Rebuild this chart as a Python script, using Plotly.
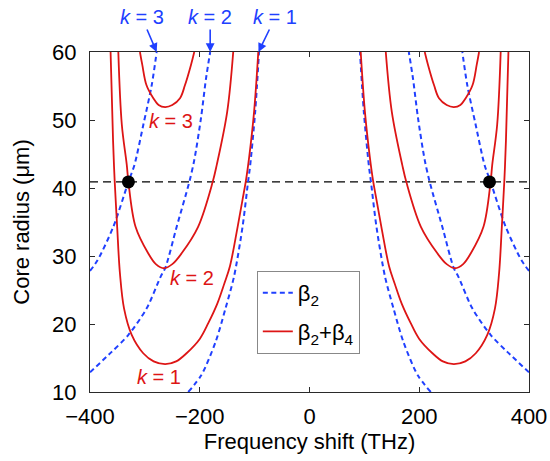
import plotly.graph_objects as go

# ---------------- data ----------------
# beta2 only (blue dashed), left half (negative shift)
b1_f_L = [-221, -197, -171, -153, -137.5, -122, -112, -108, -99, -92]
b1_R_L = [10, 12.5, 17.4, 22.3, 27.0, 34.3, 40.9, 43.4, 51.2, 60]
b2_f_L = [-400, -360.5, -330, -296.7, -271, -263, -242, -219, -210, -197.7, -188.6, -181]
b2_R_L = [12.9, 15.9, 18.4, 22.3, 27.0, 28.2, 34.3, 40.9, 44.1, 50.3, 56.1, 60]
b3_f_L = [-400, -386, -357.5, -330, -319, -302.8, -287.6, -278.5]
b3_R_L = [27.8, 29.4, 34.3, 40.9, 43.4, 49.3, 55.1, 60]

# right half (positive shift)
b1_f_R = [221, 197, 171, 153, 137.5, 122, 112, 108, 99, 92]
b1_R_R = [10, 12.5, 17.4, 22.3, 27.0, 34.3, 40.9, 43.4, 51.2, 60]
b2_f_R = [400, 360.5, 330, 296.7, 271, 263, 242, 219, 210, 197.7, 188.6, 181]
b2_R_R = [12.9, 15.9, 18.4, 22.3, 27.0, 28.2, 34.3, 40.9, 44.1, 50.3, 56.1, 60]
b3_f_R = [400, 386, 357.5, 330, 319, 302.8, 287.6, 278.5]
b3_R_R = [27.8, 29.4, 34.3, 40.9, 43.4, 49.3, 55.1, 60]

# beta2 + beta4 (red solid), left half
r1_f_L = [-362.5, -358, -355, -350.5, -345.5, -338, -324, -303, -284, -263, -243, -224,
          -200, -184, -168, -155, -145, -131.6, -122, -116, -110, -101, -93.3]
r1_R_L = [60, 47, 41, 34.3, 27.5, 22.3, 18.4, 15.7, 14.5, 14.1, 14.5, 15.7,
          17.8, 20.2, 23.0, 26.0, 28.5, 34.0, 38.3, 41, 44.5, 51.2, 60]
r2_f_L = [-348.4, -342, -333, -330, -317, -294, -280, -265, -250, -233, -203, -176.4, -169, -150, -139]
r2_R_L = [60, 49.3, 43.4, 40.9, 34.3, 30.4, 28.8, 28.2, 28.8, 30.4, 34.3, 40.9, 43.4, 51.2, 60]
r3_f_L = [-309, -304.7, -297, -284.6, -275, -263, -250, -236, -227, -216, -210]
r3_R_L = [60, 58.1, 55.1, 53.2, 52.2, 51.9, 52.2, 53.2, 55.1, 58.1, 60]

# right half
r1_f_R = [362.5, 358, 355, 350.5, 345.5, 338, 324, 303, 284, 263, 243, 224,
          200, 184, 168, 155, 145, 131.6, 122, 116, 110, 101, 93.3]
r1_R_R = [60, 47, 41, 34.3, 27.5, 22.3, 18.4, 15.7, 14.5, 14.1, 14.5, 15.7,
          17.8, 20.2, 23.0, 26.0, 28.5, 34.0, 38.3, 41, 44.5, 51.2, 60]
r2_f_R = [348.4, 342, 333, 330, 317, 294, 280, 265, 250, 233, 203, 176.4, 169, 150, 139]
r2_R_R = [60, 49.3, 43.4, 40.9, 34.3, 30.4, 28.8, 28.2, 28.8, 30.4, 34.3, 40.9, 43.4, 51.2, 60]
r3_f_R = [309, 304.7, 297, 284.6, 275, 263, 250, 236, 227, 216, 210]
r3_R_R = [60, 58.1, 55.1, 53.2, 52.2, 51.9, 52.2, 53.2, 55.1, 58.1, 60]

# horizontal reference line and marked points
hline_f = [-400, 400]
hline_R = [40.9, 40.9]
dots_f = [-330, 328]
dots_R = [40.9, 40.9]

# labels
red_lab_text = ["<i>k</i> = 3", "<i>k</i> = 2", "<i>k</i> = 1"]
red_lab_f = [-252, -214, -274]
red_lab_R = [49.9, 26.8, 12.2]
blue_lab_text = ["<i>k</i> = 3", "<i>k</i> = 2", "<i>k</i> = 1"]
blue_tip_f = [-278.5, -181, -93]
blue_tip_R = [60, 60, 60]
blue_lab_ax = [-15, 0, 17]

x_ticks = [-400, -200, 0, 200, 400]
y_ticks = [10, 20, 30, 40, 50, 60]

# ---------------- styling ----------------
BLUE = "#2040FF"
RED = "#DD1515"
AX = "#2a2a2a"
FONT = "Liberation Sans, Arial, Helvetica, sans-serif"

fig = go.Figure()

blue_sets = [(b1_f_L, b1_R_L), (b2_f_L, b2_R_L), (b3_f_L, b3_R_L),
             (b1_f_R, b1_R_R), (b2_f_R, b2_R_R), (b3_f_R, b3_R_R)]
red_sets = [(r1_f_L, r1_R_L), (r2_f_L, r2_R_L), (r3_f_L, r3_R_L),
            (r1_f_R, r1_R_R), (r2_f_R, r2_R_R), (r3_f_R, r3_R_R)]

fig.add_trace(go.Scatter(x=hline_f, y=hline_R, mode="lines",
                         line=dict(color="black", width=1.2, dash="8px,5px"),
                         showlegend=False, hoverinfo="skip"))

for i, (fx, ry) in enumerate(blue_sets):
    fig.add_trace(go.Scatter(x=fx, y=ry, mode="lines",
                             line=dict(color=BLUE, width=2, dash="5px,3.5px", shape="spline", smoothing=0.8),
                             name="β<sub>2</sub>", legendgroup="b2",
                             showlegend=(i == 0)))
for i, (fx, ry) in enumerate(red_sets):
    fig.add_trace(go.Scatter(x=fx, y=ry, mode="lines",
                             line=dict(color=RED, width=1.8, shape="spline", smoothing=1.0),
                             name="β<sub>2</sub>+β<sub>4</sub>", legendgroup="b24",
                             showlegend=(i == 0)))

fig.add_trace(go.Scatter(x=dots_f, y=dots_R, mode="markers",
                         marker=dict(color="black", size=13),
                         showlegend=False, cliponaxis=False))

annotations = []
for t, fx, ry in zip(red_lab_text, red_lab_f, red_lab_R):
    annotations.append(dict(x=fx, y=ry, xref="x", yref="y", text=t, showarrow=False,
                            font=dict(family=FONT, size=20, color=RED)))
for t, fx, ry, ax in zip(blue_lab_text, blue_tip_f, blue_tip_R, blue_lab_ax):
    annotations.append(dict(x=fx, y=ry, xref="x", yref="y", text=t, showarrow=True,
                            ax=ax, ay=-35, arrowhead=2, arrowsize=1.1, arrowwidth=1.6,
                            arrowcolor=BLUE, standoff=0,
                            font=dict(family=FONT, size=20, color=BLUE)))

fig.update_layout(
    width=550, height=461,
    margin=dict(l=90, r=21, t=52, b=69, autoexpand=False),
    paper_bgcolor="white", plot_bgcolor="white",
    font=dict(family=FONT, size=22, color="black"),
    annotations=annotations,
    legend=dict(x=0.38, y=0.356, xanchor="left", yanchor="top",
                bgcolor="white", bordercolor="#888888", borderwidth=1,
                font=dict(family=FONT, size=22, color="black"),
                itemwidth=30, tracegroupgap=7),
    showlegend=True,
)
fig.update_xaxes(range=[-400, 400], tickvals=x_ticks, showgrid=False, zeroline=False,
                 showline=True, linecolor=AX, linewidth=1.3, mirror="ticks",
                 ticks="inside", ticklen=5, tickcolor=AX, automargin=False,
                 tickfont=dict(family=FONT, size=22), ticklabelstandoff=4,
                 title=dict(text="Frequency shift (THz)", font=dict(family=FONT, size=22), standoff=4))
fig.update_yaxes(range=[10, 60], tickvals=y_ticks, showgrid=False, zeroline=False,
                 showline=True, linecolor=AX, linewidth=1.3, mirror="ticks",
                 ticks="inside", ticklen=5, tickcolor=AX, automargin=False,
                 tickfont=dict(family=FONT, size=22), ticklabelstandoff=8,
                 title=dict(text="Core radius (μm)", font=dict(family=FONT, size=22), standoff=16))

# remove the page's default body margin so the figure fills the window exactly
page_css = ("document.body.style.margin='0px';"
            "document.documentElement.style.overflow='hidden';"
            "document.body.style.overflow='hidden';")
fig.write_html("out.html", post_script=page_css, config={"displayModeBar": False})
